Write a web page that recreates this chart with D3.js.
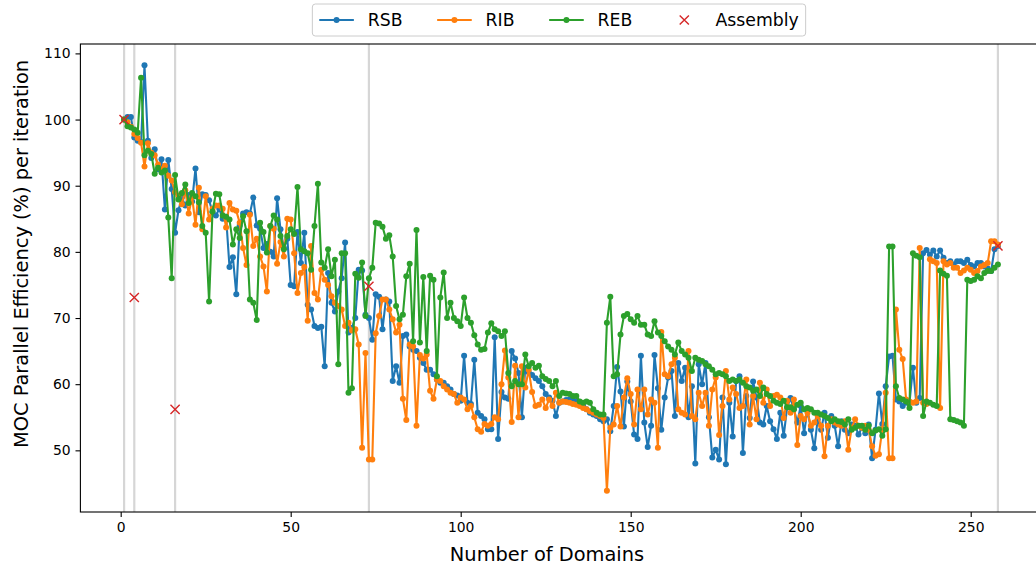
<!DOCTYPE html>
<html><head><meta charset="utf-8">
<script src="https://cdn.jsdelivr.net/npm/d3@7"></script>
<style>body{margin:0;background:#fff} text{font-family:"DejaVu Sans",sans-serif}</style>
</head><body><svg id="c" width="1036" height="569"></svg>
<script>
const domains = d3.range(1, 259);
const rsb = [
100.0,100.4,100.4,97.3,96.8,96.6,108.2,96.8,94.2,95.5,
92.5,94.0,86.4,93.9,89.5,82.9,86.3,88.2,87.0,88.6,
87.6,92.6,86.0,88.7,88.6,87.8,86.0,85.5,86.5,85.0,
85.3,77.7,79.2,73.6,84.0,85.8,86.0,85.8,88.2,84.0,
83.5,80.6,81.2,80.0,79.3,88.1,83.4,80.6,82.0,75.0,
74.8,83.0,78.3,82.9,72.0,71.3,68.8,68.5,68.7,62.7,
76.8,72.3,71.0,74.0,76.0,81.4,67.8,68.5,70.0,77.3,
77.2,70.5,70.0,66.7,73.6,73.2,68.3,72.8,72.5,60.5,
62.7,60.2,67.3,67.5,65.7,65.2,65.0,64.0,63.2,62.2,
62.2,61.5,60.7,60.2,60.2,59.7,59.2,58.5,58.3,57.5,
64.3,57.2,57.0,63.7,55.7,55.2,54.7,53.2,53.2,67.1,
51.7,58.8,58.0,57.8,65.0,63.9,61.7,55.0,62.5,61.8,
61.4,60.9,60.5,59.7,58.5,58.0,57.5,55.2,57.2,57.4,
57.6,
57.7,57.6,57.4,57.2,56.7,56.2,55.7,55.4,55.2,54.7,
54.4,54.7,52.9,56.7,62.6,58.9,53.6,60.4,57.4,52.4,
51.7,64.3,54.2,50.5,53.7,64.4,59.4,53.1,58.0,61.0,
62.0,55.2,63.2,60.5,62.5,55.0,59.7,48.0,63.0,60.0,
63.2,55.0,48.9,50.1,48.6,58.0,47.9,57.2,52.1,60.5,
61.2,49.6,58.2,54.9,60.4,58.0,54.2,53.9,56.7,54.4,
53.2,51.7,55.7,52.2,56.5,57.9,56.2,54.2,56.7,52.6,
56.2,53.1,50.3,54.7,53.1,55.7,51.9,55.2,53.7,50.6,
54.4,53.1,52.6,53.9,53.7,52.4,53.4,52.6,53.9,48.8,
53.1,58.6,54.0,59.7,64.2,64.3,57.7,57.4,56.7,57.2,
57.2,62.5,57.2,57.9,79.8,80.3,79.6,80.2,79.3,80.2,
79.1,78.3,78.6,78.1,78.6,78.6,78.3,78.8,78.0,77.8,
78.3,78.3,77.8,77.5,77.1,80.4,80.9];
const rib = [
100.0,99.6,98.9,97.8,97.2,96.5,92.9,96.4,95.0,94.6,
93.2,92.5,93.0,91.5,90.8,89.0,88.5,87.2,89.3,85.8,
88.3,84.1,89.7,83.4,88.4,84.9,86.5,87.0,87.0,86.5,
83.7,87.4,86.4,86.2,84.4,80.6,78.0,85.6,80.9,82.0,
79.3,77.8,74.0,83.9,83.5,78.2,81.5,79.3,85.0,84.9,
79.8,73.8,76.8,77.7,69.6,80.9,73.8,72.8,77.3,75.8,
75.0,73.3,72.3,71.8,71.3,68.8,69.3,68.1,68.3,66.0,
50.4,64.7,48.6,48.6,67.7,70.3,72.8,72.8,71.3,69.8,
67.8,69.0,57.8,54.6,66.0,65.7,53.7,64.4,63.9,64.5,
59.0,57.8,60.7,60.5,59.7,59.2,58.7,58.5,57.2,58.0,
57.7,56.2,56.7,55.0,53.2,52.8,54.0,53.7,54.0,55.0,
54.7,60.0,65.1,61.0,54.3,62.8,55.0,62.7,59.5,62.2,
58.8,56.7,56.9,57.7,56.4,57.7,56.7,58.7,57.2,57.4,
57.3,
57.2,57.0,56.9,56.7,56.4,56.2,55.9,55.7,55.4,55.2,
54.9,43.9,53.4,53.9,56.7,53.6,58.0,60.9,58.5,53.9,
59.2,56.2,59.2,55.4,57.7,57.2,50.4,67.9,61.5,61.2,
63.0,64.0,56.2,55.7,55.4,65.0,55.2,54.7,58.7,56.7,
58.7,53.7,59.2,61.0,52.3,56.7,62.0,57.7,59.5,58.5,
56.4,56.7,60.7,53.9,58.2,54.7,60.2,57.2,59.2,56.7,
58.2,58.4,58.0,54.9,57.5,55.7,57.7,50.8,55.2,54.7,
55.7,53.7,54.2,55.2,53.7,49.1,53.7,54.7,54.2,53.9,
53.7,54.4,50.1,53.4,54.7,53.7,53.4,53.7,53.1,50.6,
49.2,49.4,53.2,58.7,48.8,48.8,71.3,65.2,63.8,57.7,
57.4,57.2,57.4,80.6,57.2,57.0,78.9,78.6,78.3,56.4,
78.6,78.1,78.3,77.6,77.6,76.8,77.2,77.6,77.3,76.8,
77.1,77.8,78.0,78.3,81.6,81.6,81.1];
const reb = [
100.0,99.0,98.8,98.5,98.0,106.3,94.6,95.3,94.8,91.8,
92.7,92.0,92.3,85.2,76.0,91.6,87.9,88.9,90.2,87.4,
88.9,88.4,87.5,83.9,82.9,72.5,86.1,88.8,88.7,85.5,
85.3,84.9,81.1,83.4,82.1,85.4,83.1,72.8,72.3,69.7,
84.4,83.0,79.9,83.9,85.5,84.9,82.4,80.4,82.4,83.4,
82.7,89.8,80.4,80.1,79.8,77.3,83.9,90.3,78.4,77.6,
80.4,76.3,78.8,63.0,79.8,79.8,58.7,59.4,76.7,76.1,
78.4,70.3,76.0,77.6,84.4,84.3,83.8,82.0,82.5,79.3,
71.8,69.8,70.5,76.3,78.2,66.5,83.3,66.3,76.2,65.0,
76.4,75.8,61.2,73.1,76.9,70.0,72.3,70.0,69.5,68.8,
73.1,70.0,69.3,67.4,66.0,65.2,65.3,67.8,69.2,68.3,
68.0,67.3,68.0,61.7,59.7,60.5,60.0,60.0,64.5,62.7,
63.2,62.5,62.8,61.2,60.8,60.5,59.7,60.5,58.2,58.7,
58.6,
58.5,58.2,58.2,57.4,57.2,57.4,57.2,56.2,55.7,55.4,
55.4,69.3,73.2,61.2,61.5,67.5,70.3,70.6,69.8,69.3,
70.3,69.0,69.0,67.5,67.3,69.5,67.8,67.3,66.5,65.7,
65.2,64.5,66.3,65.0,64.5,64.0,62.0,64.0,63.7,63.5,
63.0,62.7,62.2,61.5,61.7,61.5,61.2,60.5,60.7,60.5,
60.7,60.2,59.7,59.5,59.0,59.2,58.2,59.5,58.5,58.2,
57.5,57.2,57.0,57.5,56.5,56.5,56.2,56.9,57.2,56.2,
56.4,56.2,55.7,55.7,55.4,55.2,54.9,54.4,54.7,54.4,
54.3,53.9,54.7,53.1,53.4,53.7,53.7,53.1,53.7,52.6,
53.0,53.2,52.2,53.2,80.8,80.8,59.7,57.9,57.7,57.4,
56.4,79.8,79.4,79.2,55.2,57.4,57.2,56.9,56.7,77.2,
76.7,76.4,54.7,54.6,54.4,54.2,53.7,75.8,75.6,75.8,
76.3,76.0,76.8,77.1,77.1,77.6,78.1];
const assemblyDomains = [1, 4, 16, 73, 258];
const assemblyValues = [100.0, 73.1, 56.2, 74.8, 80.9];
const xTicks = [0, 50, 100, 150, 200, 250];
const yTicks = [50, 60, 70, 80, 90, 100, 110];
const seriesNames = ["RSB", "RIB", "REB"];
const seriesColors = ["#1f77b4", "#ff7f0e", "#2ca02c"];
const assemblyColor = "#d62728";

const svg = d3.select("#c");
const L = 80.4, R = 1041.6, T = 44, B = 512;
const x = d3.scaleLinear().domain([-11.85, 270.85]).range([L, R]);
const y = d3.scaleLinear().domain([40.68, 111.42]).range([B, T]);

svg.append("defs").append("clipPath").attr("id", "clip")
  .append("rect").attr("x", L).attr("y", T).attr("width", R - L).attr("height", B - T);
const g = svg.append("g").attr("clip-path", "url(#clip)");

g.selectAll("line.v").data(assemblyDomains).enter().append("line")
  .attr("x1", d => x(d)).attr("x2", d => x(d)).attr("y1", T).attr("y2", B)
  .attr("stroke", "#d6d6d6").attr("stroke-width", 2.2);

const all = [rsb, rib, reb];
const line = d3.line().x((d, i) => x(domains[i])).y(d => y(d));
all.forEach((vals, k) => {
  g.append("path").datum(vals).attr("d", line).attr("fill", "none")
    .attr("stroke", seriesColors[k]).attr("stroke-width", 2.1).attr("stroke-linejoin", "round");
  g.selectAll(null).data(vals).enter().append("circle")
    .attr("cx", (d, i) => x(domains[i])).attr("cy", d => y(d)).attr("r", 3)
    .attr("fill", seriesColors[k]);
});

function cross(sel, cx, cy, s) {
  sel.append("path").attr("d", `M${cx - s},${cy - s}L${cx + s},${cy + s}M${cx - s},${cy + s}L${cx + s},${cy - s}`)
    .attr("stroke", assemblyColor).attr("stroke-width", 1.4).attr("fill", "none");
}
assemblyDomains.forEach((d, i) => cross(g, x(d), y(assemblyValues[i]), 4.6));

const xa = svg.append("g").attr("transform", `translate(0,${B})`)
  .call(d3.axisBottom(x).tickValues(xTicks).tickSize(4.9).tickPadding(4.9).tickFormat(d3.format("d")));
const ya = svg.append("g").attr("transform", `translate(${L},0)`)
  .call(d3.axisLeft(y).tickValues(yTicks).tickSize(4.9).tickPadding(4.9).tickFormat(d3.format("d")));
[xa, ya].forEach(a => {
  a.select(".domain").remove();
  a.selectAll("line").attr("stroke", "#000").attr("stroke-width", 1.1);
  a.selectAll("text").attr("font-size", "13.9px").attr("fill", "#000")
    .attr("font-family", "DejaVu Sans");
});
svg.append("rect").attr("x", L).attr("y", T).attr("width", R - L).attr("height", B - T)
  .attr("fill", "none").attr("stroke", "#000").attr("stroke-width", 1.1);

svg.append("text").attr("x", 547).attr("y", 561).attr("text-anchor", "middle")
  .attr("font-size", "19.4px").text("Number of Domains");
svg.append("text").attr("transform", `translate(28,254) rotate(-90)`)
  .attr("text-anchor", "middle").attr("font-size", "19.4px").text("MOC Parallel Efficiency (%) per iteration");

const fs = 17.3;
const leg = svg.append("g");
const labels = seriesNames.concat(["Assembly"]);
const widths = labels.map(t => {
  const tt = leg.append("text").attr("font-size", fs + "px").text(t);
  const w = tt.node().getComputedTextLength(); tt.remove(); return w;
});
const hl = 2 * fs, htp = 0.8 * fs, cs = 2 * fs, bp = 0.4 * fs;
let total = 2 * bp + widths.reduce((a, b) => a + b, 0) + 4 * (hl + htp) + 3 * cs;
const cx0 = 559;
const bx = cx0 - total / 2, by = 4, bh = 32;
leg.append("rect").attr("x", bx).attr("y", by).attr("width", total).attr("height", bh)
  .attr("rx", 3).attr("fill", "#fff").attr("fill-opacity", 0.8).attr("stroke", "#cccccc").attr("stroke-width", 1);
let px = bx + bp;
const ly = by + bh / 2;
labels.forEach((t, i) => {
  if (i < 3) {
    leg.append("line").attr("x1", px).attr("x2", px + hl).attr("y1", ly).attr("y2", ly)
      .attr("stroke", seriesColors[i]).attr("stroke-width", 2.1);
    leg.append("circle").attr("cx", px + hl / 2).attr("cy", ly).attr("r", 3).attr("fill", seriesColors[i]);
  } else {
    cross(leg, px + hl / 2, ly, 4.6);
  }
  leg.append("text").attr("x", px + hl + htp).attr("y", ly + fs * 0.36).attr("font-size", fs + "px").text(t);
  px += hl + htp + widths[i] + cs;
});
</script></body></html>
